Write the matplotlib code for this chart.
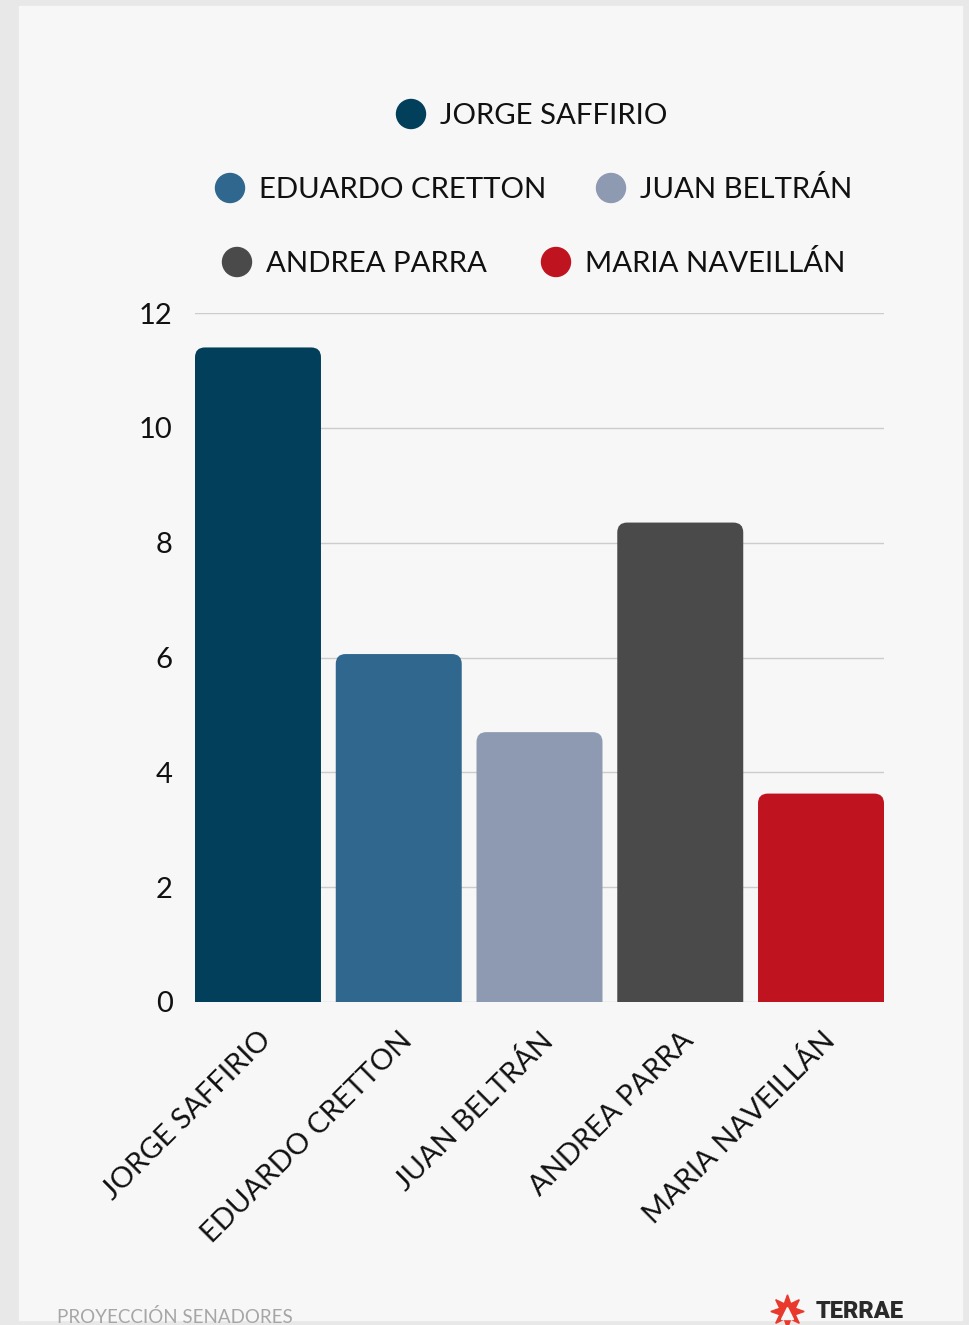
import numpy as np
import matplotlib.pyplot as plt
from matplotlib.patches import FancyBboxPatch, Rectangle, Circle

plt.rcParams['font.family'] = ['Lato', 'DejaVu Sans']

# --- données ---
candidats = ['JORGE SAFFIRIO', 'EDUARDO CRETTON', 'JUAN BELTRÁN', 'ANDREA PARRA', 'MARIA NAVEILLÁN']
valeurs = [11.4, 6.06, 4.7, 8.35, 3.63]
couleurs = ['#023f5b', '#30678f', '#8e9ab1', '#4a4a4a', '#c01320']
yticks = [0, 2, 4, 6, 8, 10, 12]

W, H = 969, 1325
fig = plt.figure(figsize=(W / 100, H / 100), dpi=100)
fig.patch.set_facecolor('#e8e8e8')

# calque en pixels pour le fond, la légende et le pied de page
bg = fig.add_axes([0, 0, 1, 1])
bg.set_xlim(0, W)
bg.set_ylim(H, 0)
bg.axis('off')
bg.add_patch(Rectangle((19, 6), 943, 1314, color='#f7f7f7', zorder=0))

# légende
leg = [(411, 114, 0), (230, 188, 1), (611, 188, 2), (237, 262, 3), (556, 262, 4)]
for cx, cy, i in leg:
    bg.add_patch(Circle((cx, cy), 14.5, color=couleurs[i], zorder=2))
    bg.text(cx + 29, cy + 2, candidats[i], fontsize=21.2, color='#111111',
            va='center', ha='left')

# pied de page
bg.text(57, 1317, 'PROYECCIÓN SENADORES', fontsize=13.5, color='#a6a6a6', va='center')
bg.plot([787], [1311], marker=(8, 1, 0), markersize=24, color='#e8392c')
bg.plot([787], [1313], marker='^', markersize=9, color='#f7f7f7')
bg.text(816, 1311, 'TERRAE', fontsize=17, fontweight='heavy', color='#2a2a2a',
        va='center', family=['Roboto', 'DejaVu Sans'])

# --- graphique ---
ax = fig.add_axes([195 / W, 1 - 1002 / H, (884 - 195) / W, (1002 - 313) / H])
ax.set_facecolor('none')
w = 0.895
x = np.arange(len(candidats))
ax.set_xlim(-w / 2, len(candidats) - 1 + w / 2)
ax.set_ylim(0, 12)

r = 0.07
aspect = (12 / 689) / ((len(candidats) - 1 + w) / 689)
for xi, v, c in zip(x, valeurs, couleurs):
    # le bas arrondi passe sous 0 et est coupé par les axes
    ax.add_patch(FancyBboxPatch((xi - w / 2, -1), w, v + 1,
                                boxstyle=f'round,pad=0,rounding_size={r}',
                                mutation_aspect=aspect, color=c, lw=0, zorder=3))

ax.set_yticks(yticks)
ax.yaxis.grid(True, color='#cccccc', lw=1)
ax.set_axisbelow(True)
for s in ax.spines.values():
    s.set_visible(False)
ax.tick_params(axis='both', length=0, labelsize=21, colors='#111111')
ax.tick_params(axis='y', pad=16)
ax.set_xticks(x)
ax.set_xticklabels(candidats, rotation=45, ha='right', rotation_mode='anchor')
ax.tick_params(axis='x', pad=18)

fig.savefig('out.png', dpi=100, facecolor=fig.get_facecolor())
